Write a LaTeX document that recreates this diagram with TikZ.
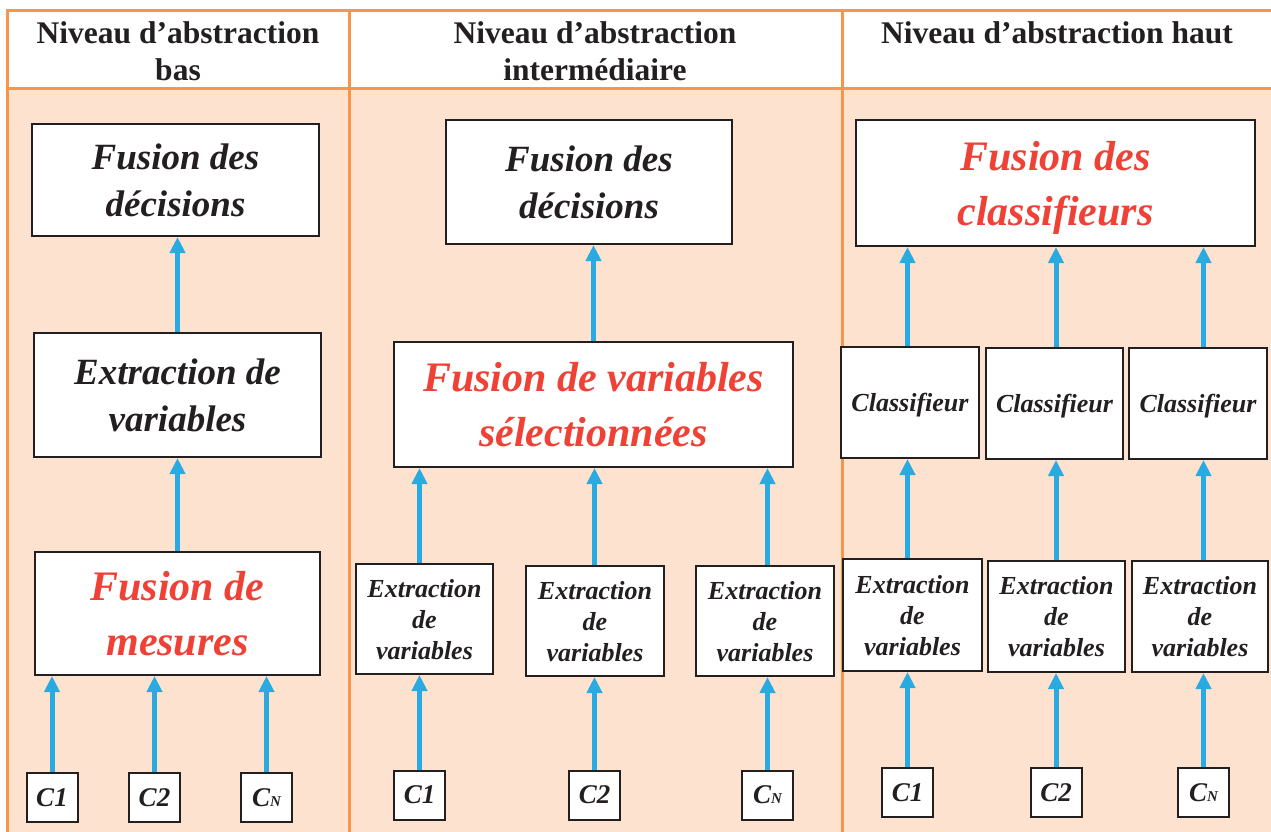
\documentclass[tikz,border=0pt]{standalone}
\usepackage{fontspec}
\setmainfont{Liberation Serif}
\usepackage{xcolor}
\usetikzlibrary{arrows.meta,calc}
\definecolor{frameorange}{HTML}{F7964A}
\definecolor{peach}{HTML}{FCE2CF}
\definecolor{arrowblue}{HTML}{29ABE2}
\definecolor{fusionred}{HTML}{EF4136}
\definecolor{ink}{HTML}{231F20}
\newcommand{\CsubN}{C{\fontsize{15}{15}\selectfont N}}

\begin{document}
\begin{tikzpicture}[
  x=1pt, y=-1pt,
  box/.style={draw=ink, line width=2pt, fill=white, inner sep=0pt,
              align=center, text=ink, text depth=0pt},
  bigtxt/.style={font=\fontsize{37}{47}\selectfont\bfseries\itshape},
  redtxt/.style={text=fusionred,
                 font=\fontsize{42}{55}\selectfont\bfseries\itshape},
  smalltxt/.style={font=\fontsize{26}{31}\selectfont\bfseries\itshape},
  cbox/.style={box, minimum width=51pt, minimum height=49pt,
               font=\fontsize{27}{27}\selectfont\bfseries\itshape},
  head/.style={anchor=north, align=center, inner sep=0pt, text=ink,
               font=\fontsize{31.5}{37}\selectfont\bfseries},
  arr/.style={draw=arrowblue, line width=5pt,
              -{Triangle[length=16pt,width=15pt]}},
  rule/.style={draw=frameorange, line width=3pt}
]
\useasboundingbox (0,0) rectangle (1271,832);
% table frame
\fill[white] (7,11) rectangle (1271,89);
\fill[peach] (7,89) rectangle (1271,832);
\draw[rule] (5.5,11) -- (1271,11);
\draw[rule] (5.5,89) -- (1271,89);
\draw[rule] (7,11) -- (7,832);
\draw[rule] (349,11) -- (349,832);
\draw[rule] (842,11) -- (842,832);
\node[head] (hbas) at (178,21.5) {Niveau d’abstraction\\bas};
\node[head] (hint) at (595,21.5) {Niveau d’abstraction\\intermédiaire};
\node[head] (hhaut) at (1057,21.5) {Niveau d’abstraction haut};
% bas
\node[box, bigtxt, minimum width=287pt, minimum height=112pt]
  (decbas) at (175.5,180) {Fusion des\\décisions};
\node[box, bigtxt, minimum width=287pt, minimum height=124pt]
  (extbas) at (177.5,395) {Extraction de\\variables};
\node[box, redtxt, minimum width=285pt, minimum height=123pt]
  (mes) at (177.5,613.5) {Fusion de\\mesures};
\node[cbox] (cunbas) at (52,797.5) {C1};
\node[cbox] (cdeuxbas) at (154.5,797.5) {C2};
\node[cbox] (cnbas) at (266.5,797.5) {\CsubN};
% intermediaire
\node[box, bigtxt, minimum width=286pt, minimum height=124pt]
  (decint) at (589,182) {Fusion des\\décisions};
\node[box, redtxt, minimum width=399pt, minimum height=125pt]
  (sel) at (593.5,404.5) {Fusion de variables\\sélectionnées};
\node[box, smalltxt, minimum width=137pt, minimum height=110pt]
  (extuna) at (424.5,619) {Extraction\\de\\variables};
\node[box, smalltxt, minimum width=138pt, minimum height=110pt]
  (extdeux) at (595,621) {Extraction\\de\\variables};
\node[box, smalltxt, minimum width=138pt, minimum height=110pt]
  (extn) at (765,621) {Extraction\\de\\variables};
\node[cbox] (cunint) at (419.5,795) {C1};
\node[cbox] (cdeuxint) at (594.5,795) {C2};
\node[cbox] (cnint) at (767.5,795) {\CsubN};
% haut
\node[box, redtxt, minimum width=399pt, minimum height=126pt]
  (cls) at (1055.5,183) {Fusion des\\classifieurs};
\node[box, smalltxt, minimum width=138pt, minimum height=111pt]
  (clun) at (910,402.5) {Classifieur};
\node[box, smalltxt, minimum width=137pt, minimum height=111pt]
  (cldeux) at (1054.5,403.5) {Classifieur};
\node[box, smalltxt, minimum width=138pt, minimum height=111pt]
  (cln) at (1198,403.5) {Classifieur};
\node[box, smalltxt, minimum width=139pt, minimum height=112pt]
  (exhun) at (912.5,615) {Extraction\\de\\variables};
\node[box, smalltxt, minimum width=137pt, minimum height=111pt]
  (exhdeux) at (1056.5,616.5) {Extraction\\de\\variables};
\node[box, smalltxt, minimum width=136pt, minimum height=111pt]
  (exhn) at (1200,616.5) {Extraction\\de\\variables};
\node[cbox] (cunhaut) at (907.5,792.5) {C1};
\node[cbox] (cdeuxhaut) at (1056,792.5) {C2};
\node[cbox] (cnhaut) at (1203.5,792.5) {\CsubN};
% arrows bas
\draw[arr] (extbas.north) -- (extbas.north |- decbas.south);
\draw[arr] (mes.north) -- (mes.north |- extbas.south);
\draw[arr] (cunbas.north) -- (cunbas.north |- mes.south);
\draw[arr] (cdeuxbas.north) -- (cdeuxbas.north |- mes.south);
\draw[arr] (cnbas.north) -- (cnbas.north |- mes.south);
% arrows intermediaire
\draw[arr] (sel.north) -- (sel.north |- decint.south);
\draw[arr] (cunint.north |- extuna.north) -- (cunint.north |- sel.south);
\draw[arr] (cdeuxint.north |- extdeux.north) -- (cdeuxint.north |- sel.south);
\draw[arr] (cnint.north |- extn.north) -- (cnint.north |- sel.south);
\draw[arr] (cunint.north) -- (cunint.north |- extuna.south);
\draw[arr] (cdeuxint.north) -- (cdeuxint.north |- extdeux.south);
\draw[arr] (cnint.north) -- (cnint.north |- extn.south);
% arrows haut
\draw[arr] (cunhaut.north |- clun.north) -- (cunhaut.north |- cls.south);
\draw[arr] (cdeuxhaut.north |- cldeux.north) -- (cdeuxhaut.north |- cls.south);
\draw[arr] (cnhaut.north |- cln.north) -- (cnhaut.north |- cls.south);
\draw[arr] (cunhaut.north |- exhun.north) -- (cunhaut.north |- clun.south);
\draw[arr] (cdeuxhaut.north |- exhdeux.north) -- (cdeuxhaut.north |- cldeux.south);
\draw[arr] (cnhaut.north |- exhn.north) -- (cnhaut.north |- cln.south);
\draw[arr] (cunhaut.north) -- (cunhaut.north |- exhun.south);
\draw[arr] (cdeuxhaut.north) -- (cdeuxhaut.north |- exhdeux.south);
\draw[arr] (cnhaut.north) -- (cnhaut.north |- exhn.south);
\end{tikzpicture}
\end{document}
